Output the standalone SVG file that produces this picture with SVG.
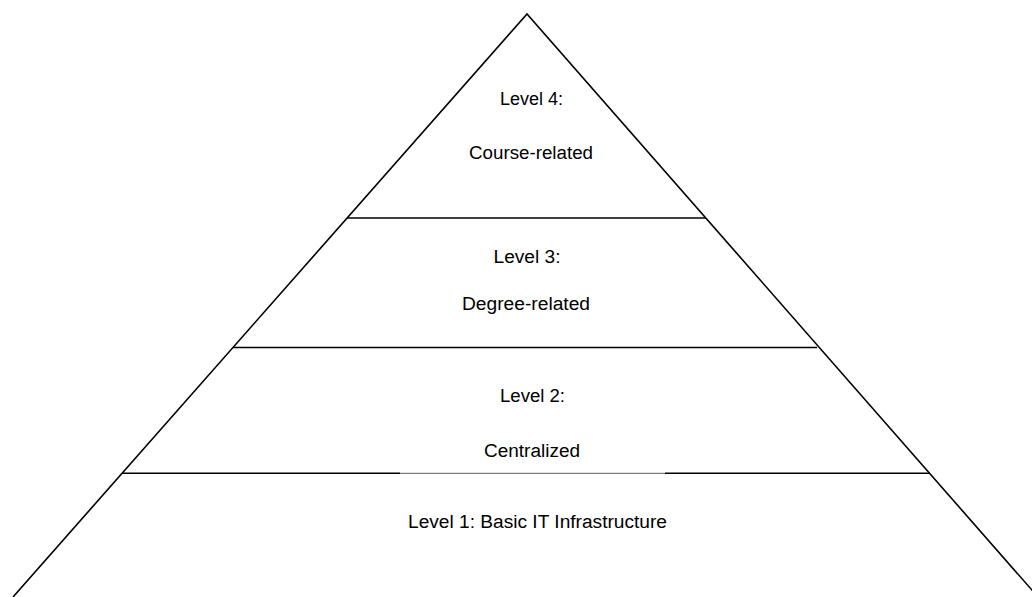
<svg xmlns="http://www.w3.org/2000/svg" width="1032" height="597" viewBox="0 0 1032 597">
<style>
.edge{stroke:#000;stroke-width:1.6;fill:none;stroke-linecap:butt}
.div{stroke:#000;stroke-width:1.5;fill:none}
.thin{stroke:#333;stroke-width:0.8;fill:none}
.lbl{font-family:"Liberation Sans",Arial,sans-serif;font-size:18px;fill:#000;text-anchor:middle}
</style>
<rect width="1032" height="597" fill="#fff"/>
<g id="connectors">
<path class="edge" d="M13,597 L527,14 L1038,597"/>
<line class="div" x1="347" y1="218" x2="706" y2="218"/>
<line class="div" x1="233" y1="347.5" x2="817" y2="347.5"/>
<line class="div" x1="122" y1="473.3" x2="400" y2="473.3"/>
<line class="thin" x1="400" y1="473.3" x2="665" y2="473.3"/>
<line class="div" x1="665" y1="473.3" x2="929" y2="473.3"/>
</g>
<g id="level4">
<text class="lbl" x="531.5" y="104.5" textLength="63" lengthAdjust="spacingAndGlyphs">Level 4:</text>
<text class="lbl" x="531" y="159" textLength="124" lengthAdjust="spacingAndGlyphs">Course-related</text>
</g>
<g id="level3">
<text class="lbl" x="527" y="263" textLength="67" lengthAdjust="spacingAndGlyphs">Level 3:</text>
<text class="lbl" x="526" y="310" textLength="128" lengthAdjust="spacingAndGlyphs">Degree-related</text>
</g>
<g id="level2">
<text class="lbl" x="532.5" y="402" textLength="65" lengthAdjust="spacingAndGlyphs">Level 2:</text>
<text class="lbl" x="532" y="457" textLength="96" lengthAdjust="spacingAndGlyphs">Centralized</text>
</g>
<g id="level1">
<text class="lbl" x="537.5" y="528" textLength="259" lengthAdjust="spacingAndGlyphs">Level 1: Basic IT Infrastructure</text>
</g>
</svg>
